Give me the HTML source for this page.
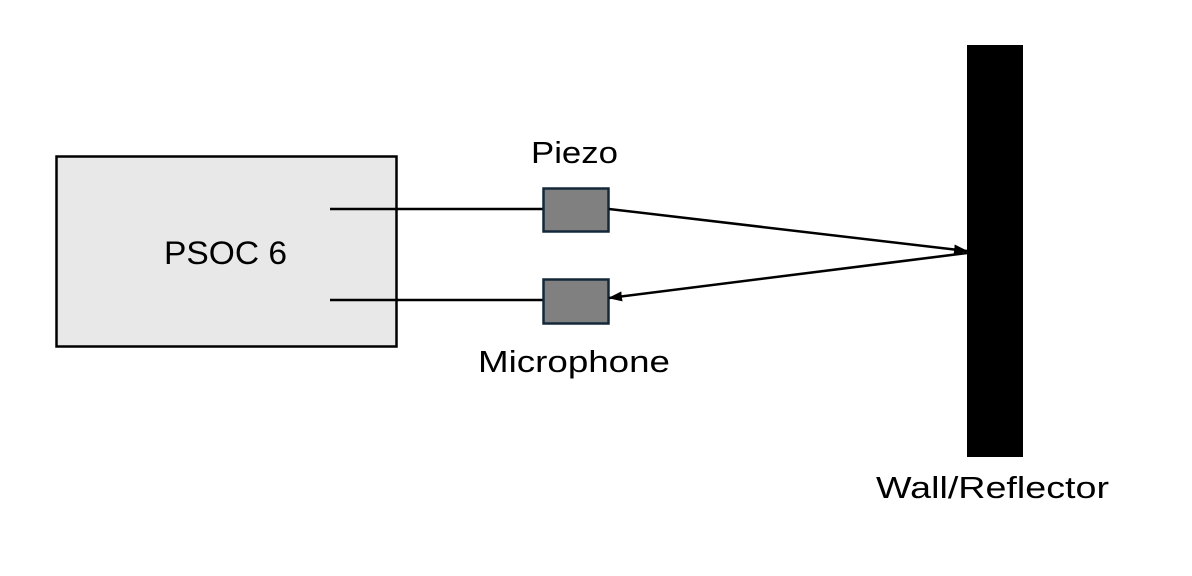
<!DOCTYPE html>
<html><head><style>
body{margin:0;width:1192px;height:571px;background:#fff;overflow:hidden;font-family:"Liberation Sans",sans-serif;}
</style></head><body>
<svg width="1192" height="571" xmlns="http://www.w3.org/2000/svg" font-family="Liberation Sans, sans-serif">
<defs>
<marker id="a" markerWidth="14" markerHeight="10" refX="13" refY="5" orient="auto" markerUnits="userSpaceOnUse">
<path d="M0,0 L14,5 L0,10 z" fill="#000"/></marker>
</defs>
<rect x="56.5" y="156.5" width="340" height="190" fill="#e8e8e8" stroke="#000" stroke-width="2.5"/>
<text x="164" y="264" font-size="32" textLength="123" lengthAdjust="spacingAndGlyphs">PSOC 6</text>
<line x1="330" y1="209" x2="543" y2="209" stroke="#000" stroke-width="2.5"/>
<line x1="330" y1="300" x2="543" y2="300" stroke="#000" stroke-width="2.5"/>
<rect x="543.5" y="188.5" width="65" height="43" fill="#808080" stroke="#14283a" stroke-width="2.5"/>
<rect x="543.5" y="279.5" width="65" height="44" fill="#808080" stroke="#14283a" stroke-width="2.5"/>
<text x="531" y="163" font-size="31" textLength="87" lengthAdjust="spacingAndGlyphs">Piezo</text>
<text x="478" y="372" font-size="31" textLength="192" lengthAdjust="spacingAndGlyphs">Microphone</text>
<rect x="967" y="45" width="56" height="412" fill="#000"/>
<line x1="609" y1="209" x2="967" y2="251" stroke="#000" stroke-width="2.5" marker-end="url(#a)"/>
<line x1="967" y1="253" x2="609" y2="298" stroke="#000" stroke-width="2.5" marker-end="url(#a)"/>
<text x="876" y="498" font-size="31" textLength="233" lengthAdjust="spacingAndGlyphs">Wall/Reflector</text>
</svg>
</body></html>
